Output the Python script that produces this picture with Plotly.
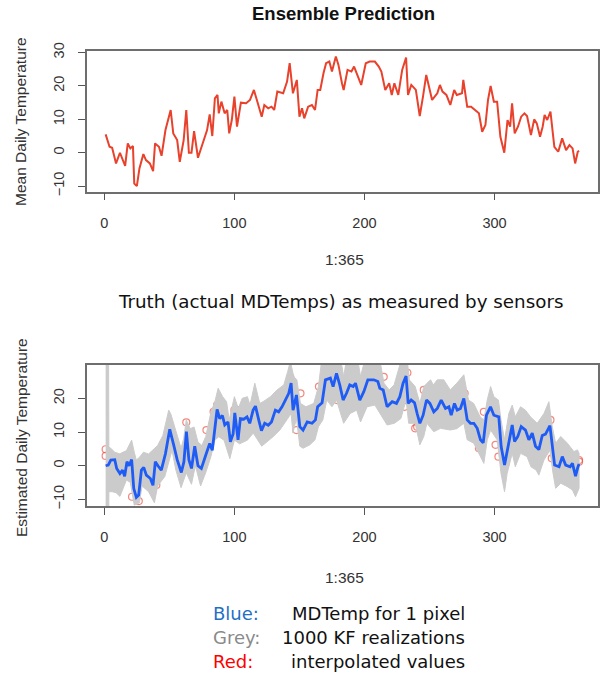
import plotly.graph_objects as go

W, H = 603, 678

# ---------------- data ----------------
truth_day = [1, 4, 6, 9, 12, 14, 16, 18, 20, 22, 23, 25, 27, 30, 32, 35, 37.5, 39, 42, 44,
             47, 49, 51, 53, 56, 58, 61, 63, 65, 67, 69, 72, 76, 79, 81, 83, 85, 87, 88, 90,
             92.5, 94.5, 96, 98, 100, 102, 105, 109, 112, 115, 118, 121, 123, 126, 128.5, 130.6,
             133, 137.5, 140.5, 142.5, 145, 148, 150, 152, 153.7, 156.7, 159.6, 162, 164, 166,
             168.5, 170.5, 173, 175, 178, 180, 182.7, 184, 187, 190, 192, 195, 197.5, 201, 204,
             208, 211, 213, 216, 219, 221, 223, 226, 229, 232, 233.5, 236, 239.5, 242.5, 245,
             247.5, 249, 252, 256, 258, 260, 263, 266, 269, 271, 275, 276, 279, 282, 285, 288,
             290.5, 293, 295, 297, 299.5, 302, 304.5, 307.5, 310, 312, 313.5, 315.5, 318, 320.5,
             323, 325, 328, 330.5, 332.5, 335, 337, 338.5, 340.5, 343, 346, 349, 352, 355,
             357.6, 360, 362, 364, 365]
truth_val = [5.5, 1.8, 1.5, -3.2, 0, -2, -3.9, 2.8, 1.3, 2, -9.2, -10, -4.7, -0.4, -2.2, -3.2, -5.5, 2.8, 1.8, -0.9,
             6.8, 9.8, 12.8, 5.8, 3.8, -2.7, 3.8, 12.8, 0, 0, 6.5, -1.5, 3.3, 6.8, 11.5, 5, 16.3, 17.3, 11.8, 15.3,
             11.8, 12.8, 5.8, 9.8, 16.8, 7.8, 15, 14.8, 15.8, 18.8, 14.8, 10.8, 14.3, 13.3, 13.8, 12.8,
             18.3, 17.8, 21.3, 26.8, 17.8, 21.8, 10.8, 13.3, 10.3, 13.8, 14.3, 12.8, 18.8, 18.8,
             23.8, 26.8, 27.3, 24.3, 28.8, 26.3, 20.8, 18.8, 24.8, 24.3, 25.8, 22.8, 20.3, 26.8, 27.3,
             27.3, 25.8, 24.3, 18.8, 20.8, 17.3, 20.8, 17.3, 24.8, 28.5, 17.3, 20.3, 18.8, 11, 16.8,
             23.3, 20.8, 15.8, 17.8, 20.3, 18.3, 17.3, 14.3, 18.8, 17.3, 17.8, 21.8, 13.8, 13.8, 12.8, 11.8,
             6.3, 8.3, 15.8, 20, 15.3, 15.3, 4.8, 0, 9.8, 7.8, 14.8, 5.8, 7.8, 10.8,
             11.8, 11, 5.3, 10, 8.8, 4.8, 7.8, 11.3, 9.8, 12.3, 1.8, 0.3, 4.3, 0.8,
             2.3, 1.3, -3.2, 0.3, 0.6]

est_day = [1, 3, 5, 8, 9.5, 12, 14, 15.6, 17.4, 19, 21, 22.6, 24.6, 26.4, 28.5, 30.3, 32.3, 35.4, 37.4, 39.2,
           41.2, 43.8, 47, 50.3, 53.3, 56, 59.2, 61.2, 63.1, 65, 67, 69.5, 72, 74.6, 77.7, 81, 83, 85, 86.7, 88.7,
           90.8, 92.6, 95.1, 96.9, 99, 100.3, 102.8, 104.6, 107.2, 109.7, 111.8, 114.4, 116.2, 118.7, 120.8, 123.3,
           126, 128.5, 131.5, 134, 136.6, 139.2, 141.8, 143.6, 145.1, 147.7, 150.3, 152.8, 156, 159.7, 162.3, 164,
           167.4, 170, 173.8, 175.9, 178.5, 181, 183.6, 186.2, 188.7, 191.3, 193.1, 196.4, 199.5, 202.6, 207.2,
           210.3, 211.8, 214.4, 217.4, 221.3, 224.6, 227.2, 229.7, 232, 233.6, 235.9, 238.5, 240.5, 242.6, 245.1,
           247.7, 250.3, 253.3, 256, 259, 262.3, 264.9, 266.7, 269.2, 271.3, 273.8, 276.4, 279, 281.5, 284.1,
           286.7, 289.2, 291.3, 293.8, 296.9, 299.5, 303.3, 305.1, 307.7, 309.7, 311.8, 313.6, 315.4, 317.9,
           320.5, 323.8, 326.4, 329, 331.5, 334.1, 336.7, 339.2, 342.6, 344.4, 346.2, 349.6, 352.1, 354.7,
           358.1, 359.9, 362.3, 364, 365]
est_val = [0, 0.2, 1.7, 1.8, -0.8, -2.3, -1.3, -3.1, 1.2, 0, 1.8, -6.7, -9.4, -8.7, -1.3, -0.5, -2.8, -3.8, -5.8, 1.2,
           0, -1.3, 3.6, 10.8, 6.2, 1.8, -2, 1.2, 10.1, 1.8, -0.8, 5.8, 0, -0.8, 2.8, 6.6, 4.6, 12.1, 16.7, 14,
           14.9, 12.1, 13, 7.1, 9.4, 15.7, 7.7, 14, 13.8, 14.5, 12.6, 16.5, 17.7, 13.6, 10.4, 12.6,
           12, 13, 16.5, 16, 17.5, 19.5, 21.5, 24.5, 16.5, 21, 11.6, 10.6, 13, 12.6, 13.6, 17.5,
           18.7, 25.5, 26, 23.5, 27.4, 24, 19.5, 21.5, 24, 23.5, 24.5, 19.5, 22, 25.5, 25.5,
           25, 23, 22.5, 17.5, 19, 18.5, 20.5, 24.5, 26.6, 18.5, 19.5, 18.7, 15.5, 12.6, 15,
           19.5, 18.5, 16, 17, 19.5, 17, 17.5, 15, 18.5, 16.5, 17, 20, 13.6, 12.6, 12.6,
           11.1, 7.7, 6.8, 15, 17.5, 15, 14.5, 5.7, 0.2, 4.6, 9, 12.1, 7.2, 8.7,
           11.6, 10.6, 7.7, 9.7, 5.8, 4.8, 9, 9.4, 11.9, 5.8, 0.2, -0.3, 2.7, 0.2,
           -0.3, 0.7, -3.1, -0.5, 0.5]

band_hi_day = [1, 3, 3.5, 5, 8, 12, 17, 21, 23, 24.6, 27, 30, 34, 37, 41, 45, 49.5, 51, 54, 57, 59, 61, 63, 66,
               69, 72, 75, 78, 82, 85, 87.5, 91, 94, 96, 100, 103, 106, 110, 112, 115.7, 119.5, 122, 124, 127.7,
               132.8, 138, 141, 143, 145.6, 148, 150.8, 155, 161, 164.6, 167, 182, 184, 186, 195, 197, 200, 212,
               215, 219, 222.8, 226, 228, 233, 234.5, 239, 242.6, 245.6, 250.8, 253, 256, 261, 266, 271, 276.4,
               280, 284, 289, 291.8, 294.4, 297, 299.5, 303, 305, 307.7, 311, 313.6, 316, 320, 323.8, 327.7,
               332.8, 338, 341.8, 344.4, 347, 350.9, 356, 361, 363.8, 365]
band_hi_val = [60, 60, 5.5, 5.2, 4, 3.5, 4.5, 7.6, 4, 1.7, 2.5, 4, 3.5, 4.5, 6, 9, 16.5, 15.5, 11.6, 8, 5.2, 8, 13.6, 11,
               11.5, 7, 6, 8.7, 16, 19, 23, 20.5, 19, 13.6, 20.5, 17, 20, 20.5, 18, 24.5, 18.5, 19, 19.5, 20.5,
               22.5, 24, 28, 31, 26.5, 25.5, 18.5, 17.5, 18.5, 23.5, 31, 31, 26.5, 31, 31, 26.5, 31, 31,
               24.5, 22.5, 24, 28, 31, 31, 25.5, 23.5, 18.5, 23.5, 25.5, 24, 25.5, 25.5, 22.5, 24.5, 27,
               19.5, 18.5, 14.5, 13.6, 19.5, 23.5, 20.5, 19.5, 13.6, 7.7, 15.5, 18, 14.5, 17.5, 16.5, 14.5,
               12.6, 15.5, 19, 11.6, 6.7, 8.7, 6.7, 4.2, 4.7, 3.7]

band_lo_day = [1, 3, 3.5, 6, 9, 12, 17, 20, 23, 27, 29, 34, 38.5, 41, 46.5, 52, 55, 59, 63, 67, 70, 74, 78, 82,
               85, 88, 92, 96.5, 100, 104, 110, 114.5, 121, 125, 130, 135, 140, 143.6, 145, 147.7, 150.3, 152.8,
               158, 162, 164.6, 168, 171, 175, 178.5, 181, 184, 189, 194, 197, 202, 208, 212, 217.4, 223, 228,
               232, 234, 239, 242.6, 245.6, 248, 253.3, 258.5, 266, 271, 276.4, 279, 284, 289, 291.8, 294.4,
               297, 302, 305, 307.7, 309.7, 313.6, 316, 320, 325, 328, 332, 334.1, 338, 342.6, 345, 347, 351,
               356, 359.9, 362.3, 364, 365]
band_lo_val = [-40, -40, -7.7, -7.7, -8, -9.1, -4.2, -5, -11.7, -11, -6, -7.7, -11, -6, -3.2, 4.6, -1.3, -6.5, -2.1,
               -5.5, 0, -6, -2, 2.8, 7.6, 8.6, 7.6, 2.1, 7.6, 6.5, 7.6, 9.7, 5.8, 7, 8.7, 10.6, 13.6, 15.5, 9.7,
               14, 5.8, 5.2, 6.2, 7.7, 11.6, 13.6, 19.5, 17.5, 19.5, 16.5, 12.6, 15.5, 16.5, 13, 17.5, 18, 15.5,
               12.1, 12.6, 14, 19.5, 12.6, 12.6, 6.2, 8.7, 12.6, 10.1, 11.1, 10.6, 11, 12.6, 7.7, 6.7, 2.7, 0.7,
               7.7, 10.6, 7.7, -2.3, -7.7, -2.3, 3.7, -0.3, 3.7, 2.7, -0.3, -1.3, -2.8, 1.7, 4.6, -2.3, -6.7,
               -5.2, -6.2, -7.2, -9.2, -7.7, -6.7]

interp_day = [1, 1, 15.6, 21.3, 25.6, 26.5, 37.4, 40, 45, 50.8, 63, 63.6, 78.5, 84, 86.7, 100, 102, 130,
              143, 147.7, 150.8, 165, 179, 199.5, 214.8, 230.8, 233, 239, 240.5, 245.6, 277, 288, 291.8,
              300.8, 303, 308.5, 315, 343, 344, 365, 365]
interp_val = [4.9, 2.9, 2.9, -9.2, -0.3, -10.5, 2.7, -5.7, 6.2, 10.9, 12.9, -0.3, 10.6, 16, 18, 16.5, 16.5, 18.5,
              26.2, 10.6, 21.5, 23.5, 19.5, 24.5, 26.4, 17.5, 27.6, 11.1, 11.6, 22.5, 21.5, 5.2, 16,
              6.2, 2.7, 0.7, 13.6, 13.6, 2.2, 1.7, 1.2]

x_ticks = [0, 100, 200, 300]
top_y_ticks = [-10, 0, 10, 20, 30]
bot_y_ticks = [-10, 0, 10, 20]

# ---------------- layout helpers ----------------
def px(x):
    return x / W

def py(y):
    return 1 - y / H

fig = go.Figure()

# top panel: ensemble prediction
fig.add_trace(go.Scatter(x=truth_day, y=truth_val, mode="lines",
                         line=dict(color="#e8412c", width=2), xaxis="x", yaxis="y",
                         showlegend=False, hoverinfo="skip"))

# bottom panel: interpolated points (underneath), band, estimate
fig.add_trace(go.Scatter(x=interp_day, y=interp_val, mode="markers",
                         marker=dict(symbol="circle-open", size=7, color="rgba(235,70,55,0.65)",
                                     line=dict(width=1.2)),
                         xaxis="x2", yaxis="y2", showlegend=False, hoverinfo="skip"))
fig.add_trace(go.Scatter(x=band_hi_day + band_lo_day[::-1], y=band_hi_val + band_lo_val[::-1],
                         mode="lines", fill="toself", fillcolor="#cbcbcb",
                         line=dict(color="#cbcbcb", width=1), xaxis="x2", yaxis="y2",
                         showlegend=False, hoverinfo="skip"))
fig.add_trace(go.Scatter(x=est_day, y=est_val, mode="lines",
                         line=dict(color="#1f5cf5", width=2.8), xaxis="x2", yaxis="y2",
                         showlegend=False, hoverinfo="skip"))

xdom = [px(86.7), px(598)]
axis_common = dict(showgrid=False, zeroline=False, showline=True, mirror=True, automargin=False,
                   linecolor="#6e6e6e", linewidth=1.5, ticks="outside", ticklen=7,
                   tickwidth=1.2, tickcolor="#555",
                   tickfont=dict(family="Liberation Sans, Arial", size=14.5, color="#333"))

fig.update_layout(
    width=W, height=H, margin=dict(l=0, r=0, t=0, b=0, autoexpand=False),
    paper_bgcolor="white", plot_bgcolor="white",
    xaxis=dict(domain=xdom, range=[-13.56, 379.56], tickvals=x_ticks, anchor="y",
               ticklabelstandoff=10, **axis_common),
    yaxis=dict(domain=[py(191.7), py(51)], range=[-11.66, 30.46], tickvals=top_y_ticks,
               anchor="x", tickangle=-90, ticklabelstandoff=8, **axis_common),
    xaxis2=dict(domain=xdom, range=[-13.56, 379.56], tickvals=x_ticks, anchor="y2",
                ticklabelstandoff=10, **axis_common),
    yaxis2=dict(domain=[py(506), py(365)], range=[-11.95, 29.9], tickvals=bot_y_ticks,
                anchor="x2", tickangle=-90, ticklabelstandoff=8, **axis_common),
)

ann_font = dict(family="Liberation Sans, Arial", size=15.5, color="#333")
tah = "DejaVu Sans"
anns = [
    dict(text="<b>Ensemble Prediction</b>", x=px(343), y=py(14),
         font=dict(family="Liberation Sans, Arial", size=18.5, color="#111")),
    dict(text="Mean Daily Temperature", x=px(21), y=py(122), textangle=-90, font=ann_font),
    dict(text="1:365", x=px(344), y=py(259), font=ann_font),
    dict(text="Truth (actual MDTemps) as measured by sensors", x=px(340), y=py(302),
         font=dict(family=tah, size=18.3, color="#111")),
    dict(text="Estimated Daily Temperature", x=px(21), y=py(438), textangle=-90, font=ann_font),
    dict(text="1:365", x=px(344), y=py(577), font=ann_font),
]
legend_rows = [("Blue:", "#1f6fc6", "MDTemp for 1 pixel", 613),
               ("Grey:", "#8a8a8a", "1000 KF realizations", 637),
               ("Red:", "#ff0000", "interpolated values", 661)]
for key, col, desc, yy in legend_rows:
    anns.append(dict(text=key, x=px(211), y=py(yy), xanchor="left",
                     font=dict(family=tah, size=18, color=col)))
    anns.append(dict(text=desc, x=px(467), y=py(yy), xanchor="right",
                     font=dict(family=tah, size=18, color="#111")))
for a in anns:
    a.setdefault("xanchor", "center")
    a.update(xref="paper", yref="paper", yanchor="middle", showarrow=False)
fig.update_layout(annotations=anns)

fig.write_html("out.html", config={"displayModeBar": False},
               post_script="document.body.style.margin='0px';")
